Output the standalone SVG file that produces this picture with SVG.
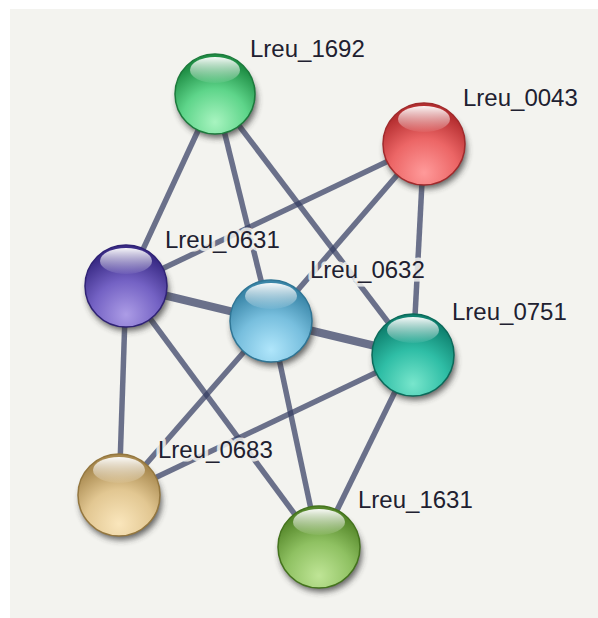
<svg xmlns="http://www.w3.org/2000/svg" width="598" height="618" viewBox="0 0 598 618">
  <style>
    .edge { stroke: #343d63; stroke-opacity: 0.72; stroke-width: 5.5; stroke-linecap: butt; fill: none; }
    .edge.strong { stroke-width: 8; }
    .label { font-family: "Liberation Sans", Arial, sans-serif; font-size: 24px; fill: #202030;
             stroke: #f4f4f0; stroke-width: 7; stroke-opacity: 0.85; stroke-linejoin: round; paint-order: stroke; }
    .rim { stroke-width: 1.5; }
    .shine { fill: url(#shine); }
    .shadow { fill: #303030; opacity: 0.75; filter: url(#soft); }
  </style>
  <defs>
    <filter id="soft" x="-30%" y="-30%" width="160%" height="160%">
      <feGaussianBlur stdDeviation="3"/>
    </filter>
    <linearGradient id="shine" x1="0" y1="0" x2="0" y2="1">
      <stop offset="0" stop-color="#ffffff" stop-opacity="0.95"/>
      <stop offset="1" stop-color="#ffffff" stop-opacity="0.05"/>
    </linearGradient>
    <radialGradient id="g1692" cx="50%" cy="85%" r="75%">
      <stop offset="0" stop-color="#a8f4c0"/>
      <stop offset="0.55" stop-color="#5ed58a"/>
      <stop offset="1" stop-color="#1f8e45"/>
    </radialGradient>
    <radialGradient id="g0043" cx="50%" cy="85%" r="75%">
      <stop offset="0" stop-color="#ff9a9a"/>
      <stop offset="0.55" stop-color="#ec6666"/>
      <stop offset="1" stop-color="#b52e30"/>
    </radialGradient>
    <radialGradient id="g0631" cx="50%" cy="85%" r="75%">
      <stop offset="0" stop-color="#ac9ce6"/>
      <stop offset="0.55" stop-color="#7462c4"/>
      <stop offset="1" stop-color="#3a2b86"/>
    </radialGradient>
    <radialGradient id="g0632" cx="50%" cy="85%" r="75%">
      <stop offset="0" stop-color="#b0e6fb"/>
      <stop offset="0.55" stop-color="#78bfde"/>
      <stop offset="1" stop-color="#3a86a8"/>
    </radialGradient>
    <radialGradient id="g0751" cx="50%" cy="85%" r="75%">
      <stop offset="0" stop-color="#78e6cc"/>
      <stop offset="0.55" stop-color="#2fbea6"/>
      <stop offset="1" stop-color="#0f8270"/>
    </radialGradient>
    <radialGradient id="g0683" cx="50%" cy="85%" r="75%">
      <stop offset="0" stop-color="#fae6bc"/>
      <stop offset="0.55" stop-color="#e2c792"/>
      <stop offset="1" stop-color="#a98a50"/>
    </radialGradient>
    <radialGradient id="g1631" cx="50%" cy="85%" r="75%">
      <stop offset="0" stop-color="#bfe596"/>
      <stop offset="0.55" stop-color="#8fc162"/>
      <stop offset="1" stop-color="#55872a"/>
    </radialGradient>
  </defs>

  <rect x="0" y="0" width="598" height="618" fill="#ffffff"/>
  <rect x="10" y="9" width="588" height="609" fill="#f3f3ef"/>

  <g id="edges">
    <line class="edge" x1="215" y1="94" x2="126" y2="286"/>
    <line class="edge" x1="215" y1="94" x2="271" y2="321"/>
    <line class="edge" x1="215" y1="94" x2="413" y2="355"/>
    <line class="edge" x1="424" y1="144" x2="126" y2="286"/>
    <line class="edge" x1="424" y1="144" x2="271" y2="321"/>
    <line class="edge" x1="424" y1="144" x2="413" y2="355"/>
    <line class="edge strong" x1="126" y1="286" x2="271" y2="321"/>
    <line class="edge strong" x1="271" y1="321" x2="413" y2="355"/>
    <line class="edge" x1="126" y1="286" x2="119" y2="495"/>
    <line class="edge" x1="126" y1="286" x2="319" y2="547"/>
    <line class="edge" x1="271" y1="321" x2="119" y2="495"/>
    <line class="edge" x1="271" y1="321" x2="319" y2="547"/>
    <line class="edge" x1="413" y1="355" x2="119" y2="495"/>
    <line class="edge" x1="413" y1="355" x2="319" y2="547"/>
  </g>

  <g id="Lreu_1692">
    <ellipse class="shadow" cx="217" cy="100" rx="40" ry="38"/>
    <circle cx="215" cy="94" r="40" fill="url(#g1692)" stroke="#1c7a3c" class="rim"/>
    <ellipse class="shine" cx="215" cy="70" rx="25" ry="13"/>
    <text class="label" x="250" y="57">Lreu_1692</text>
  </g>

  <g id="Lreu_0043">
    <ellipse class="shadow" cx="426" cy="150" rx="41" ry="39"/>
    <circle cx="424" cy="144" r="41" fill="url(#g0043)" stroke="#a02a2c" class="rim"/>
    <ellipse class="shine" cx="424" cy="119" rx="26" ry="13"/>
    <text class="label" x="463" y="106">Lreu_0043</text>
  </g>

  <g id="Lreu_0631">
    <ellipse class="shadow" cx="128" cy="292" rx="41" ry="39"/>
    <circle cx="126" cy="286" r="41" fill="url(#g0631)" stroke="#2f2275" class="rim"/>
    <ellipse class="shine" cx="126" cy="261" rx="26" ry="13"/>
    <text class="label" x="165" y="248">Lreu_0631</text>
  </g>

  <g id="Lreu_0632">
    <ellipse class="shadow" cx="273" cy="327" rx="41" ry="39"/>
    <circle cx="271" cy="321" r="41" fill="url(#g0632)" stroke="#2f7595" class="rim"/>
    <ellipse class="shine" cx="271" cy="296" rx="26" ry="13"/>
    <text class="label" x="310" y="278">Lreu_0632</text>
  </g>

  <g id="Lreu_0751">
    <ellipse class="shadow" cx="415" cy="361" rx="41" ry="39"/>
    <circle cx="413" cy="355" r="41" fill="url(#g0751)" stroke="#0b6a5a" class="rim"/>
    <ellipse class="shine" cx="413" cy="330" rx="26" ry="13"/>
    <text class="label" x="452" y="320">Lreu_0751</text>
  </g>

  <g id="Lreu_0683">
    <ellipse class="shadow" cx="121" cy="501" rx="41" ry="39"/>
    <circle cx="119" cy="495" r="41" fill="url(#g0683)" stroke="#94773f" class="rim"/>
    <ellipse class="shine" cx="119" cy="470" rx="26" ry="13"/>
    <text class="label" x="158" y="458">Lreu_0683</text>
  </g>

  <g id="Lreu_1631">
    <ellipse class="shadow" cx="321" cy="553" rx="41" ry="39"/>
    <circle cx="319" cy="547" r="41" fill="url(#g1631)" stroke="#44731d" class="rim"/>
    <ellipse class="shine" cx="319" cy="522" rx="26" ry="13"/>
    <text class="label" x="358" y="508">Lreu_1631</text>
  </g>
</svg>
